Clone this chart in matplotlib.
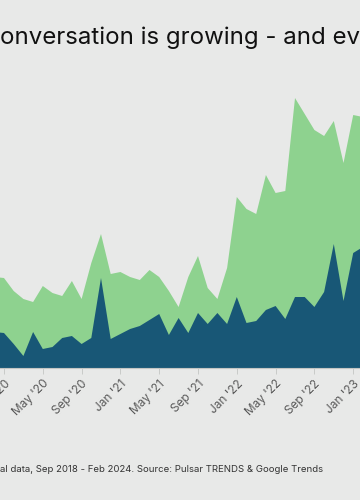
import matplotlib
matplotlib.use("Agg")
import matplotlib.pyplot as plt
import numpy as np

# Months shown in this (cropped) view: Dec 2019 .. Feb 2023
months = ["Dec '19",
          "Jan '20", "Feb '20", "Mar '20", "Apr '20", "May '20", "Jun '20",
          "Jul '20", "Aug '20", "Sep '20", "Oct '20", "Nov '20", "Dec '20",
          "Jan '21", "Feb '21", "Mar '21", "Apr '21", "May '21", "Jun '21",
          "Jul '21", "Aug '21", "Sep '21", "Oct '21", "Nov '21", "Dec '21",
          "Jan '22", "Feb '22", "Mar '22", "Apr '22", "May '22", "Jun '22",
          "Jul '22", "Aug '22", "Sep '22", "Oct '22", "Nov '22", "Dec '22",
          "Jan '23", "Feb '23"]

# Upper (green) series - total level
total_values = [91, 90, 77, 69, 66, 82, 75, 72, 87, 69, 105, 134, 94,
                96, 91, 88, 98, 91, 77, 61, 91, 112, 80, 69, 100,
                171, 159, 154, 193, 175, 177, 270, 254, 238, 232, 247, 205,
                253, 251]

# Lower (dark blue) series
base_values = [36, 35, 24, 12, 36, 19, 21, 30, 32, 24, 30, 90, 29,
               34, 39, 42, 48, 54, 33, 50, 35, 55, 44, 55, 44,
               71, 45, 47, 58, 62, 49, 71, 71, 61, 76, 124, 67,
               115, 121]

tick_labels = ["Jan '20", "May '20", "Sep '20", "Jan '21", "May '21",
               "Sep '21", "Jan '22", "May '22", "Sep '22", "Jan '23"]

title_text = "onversation is growing - and ev"
footnote_text = "al data, Sep 2018 - Feb 2024. Source: Pulsar TRENDS & Google Trends"

BG = "#e8e9e8"
GREEN = "#8ed28f"
DARK = "#185776"

plt.rcParams['font.family'] = ['Inter', 'DejaVu Sans']

fig = plt.figure(figsize=(3.6, 5.0), dpi=100, facecolor=BG)
ax = fig.add_axes([0.0, 0.264, 1.0, 0.6])
ax.set_facecolor(BG)

x = np.arange(len(months)) - 1  # Jan '20 -> 0
ax.fill_between(x, 0, total_values, color=GREEN, linewidth=0)
ax.fill_between(x, 0, base_values, color=DARK, linewidth=0)

ax.set_xlim(-0.412, 36.70)
ax.set_ylim(0, 300)

tick_pos = [months.index(t) - 1 for t in tick_labels]
ax.set_xticks(tick_pos)
ax.set_xticklabels(tick_labels, rotation=45, ha='right', rotation_mode='anchor',
                   fontsize=8.5, color='#5a5a5a')
ax.tick_params(axis='x', length=4, width=0.6, color='#c4c6c4', pad=3)
ax.set_yticks([])
for s in ['top', 'right', 'left']:
    ax.spines[s].set_visible(False)
ax.spines['bottom'].set_color('#c4c6c4')
ax.spines['bottom'].set_linewidth(0.8)

fig.text(0.0, 1 - 44 / 500, title_text, ha='left', va='baseline',
         fontsize=17.3, color='#111111')
fig.text(0.0, 1 - 472 / 500, footnote_text, ha='left', va='baseline',
         fontsize=6.9, color='#333333')

fig.savefig("out.png", dpi=100, facecolor=BG)
